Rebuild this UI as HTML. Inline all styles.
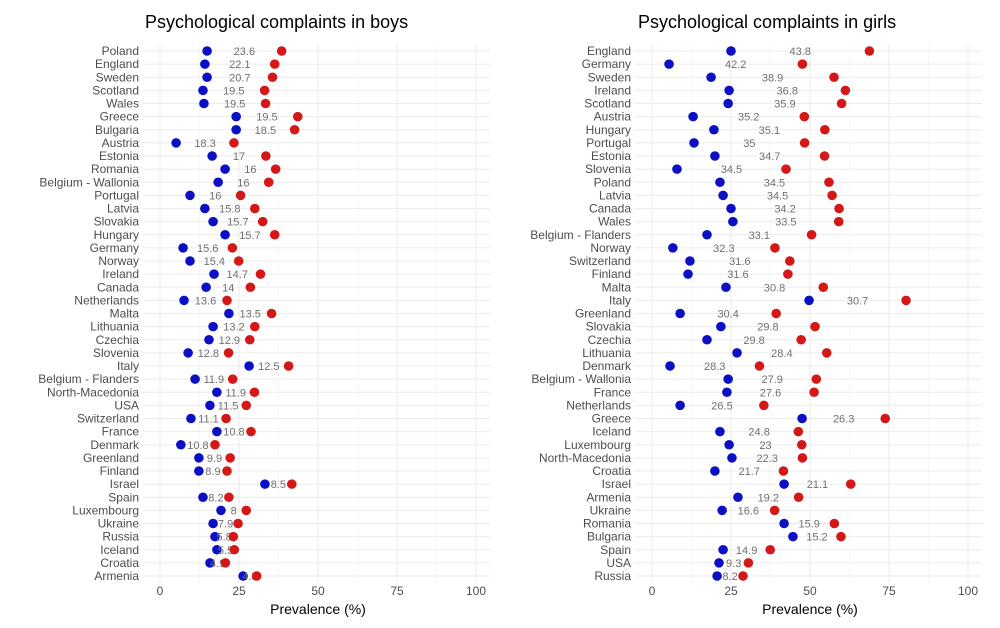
<!DOCTYPE html>
<html><head><meta charset="utf-8"><style>
body{margin:0;background:#fff;font-family:"Liberation Sans",sans-serif;}
svg text{font-family:"Liberation Sans",sans-serif;}
</style></head><body>
<svg id="chart" width="1000" height="623" viewBox="0 0 1000 623" xmlns="http://www.w3.org/2000/svg"></svg>
<script>
const boysCountries=["Poland","England","Sweden","Scotland","Wales","Greece","Bulgaria","Austria","Estonia","Romania","Belgium - Wallonia","Portugal","Latvia","Slovakia","Hungary","Germany","Norway","Ireland","Canada","Netherlands","Malta","Lithuania","Czechia","Slovenia","Italy","Belgium - Flanders","North-Macedonia","USA","Switzerland","France","Denmark","Greenland","Finland","Israel","Spain","Luxembourg","Ukraine","Russia","Iceland","Croatia","Armenia"];
const boysLow=[14.9,14.2,14.9,13.6,13.9,24.1,24.1,5.1,16.5,20.6,18.4,9.5,14.2,16.8,20.6,7.3,9.5,17.1,14.6,7.6,21.8,16.8,15.5,8.9,28.2,11.1,18.0,15.8,9.8,18.0,6.6,12.3,12.3,33.2,13.6,19.3,16.8,17.4,18.0,15.8,26.3];
const boysHigh=[38.5,36.3,35.6,33.1,33.4,43.6,42.6,23.4,33.5,36.6,34.4,25.5,30.0,32.5,36.3,22.9,24.9,31.8,28.6,21.2,35.3,30.0,28.4,21.7,40.7,23.0,29.9,27.3,20.9,28.8,17.4,22.2,21.2,41.7,21.8,27.3,24.7,23.2,23.5,20.7,30.6];
const boysGap=[23.6,22.1,20.7,19.5,19.5,19.5,18.5,18.3,17,16,16,16,15.8,15.7,15.7,15.6,15.4,14.7,14,13.6,13.5,13.2,12.9,12.8,12.5,11.9,11.9,11.5,11.1,10.8,10.8,9.9,8.9,8.5,8.2,8,7.9,5.8,5.5,4.9,4.3];
const girlsCountries=["England","Germany","Sweden","Ireland","Scotland","Austria","Hungary","Portugal","Estonia","Slovenia","Poland","Latvia","Canada","Wales","Belgium - Flanders","Norway","Switzerland","Finland","Malta","Italy","Greenland","Slovakia","Czechia","Lithuania","Denmark","Belgium - Wallonia","France","Netherlands","Greece","Iceland","Luxembourg","North-Macedonia","Croatia","Israel","Armenia","Ukraine","Romania","Bulgaria","Spain","USA","Russia"];
const girlsLow=[25.0,5.4,18.7,24.4,24.1,13.0,19.6,13.3,19.9,7.9,21.5,22.5,25.0,25.6,17.4,6.6,12.0,11.4,23.4,49.7,8.9,21.8,17.4,26.9,5.7,24.1,23.7,8.9,47.5,21.5,24.4,25.3,19.9,41.8,27.2,22.2,41.8,44.6,22.5,21.2,20.6];
const girlsHigh=[68.8,47.6,57.6,61.2,60.0,48.2,54.7,48.3,54.6,42.4,56.0,57.0,59.2,59.1,50.5,38.9,43.6,43.0,54.2,80.4,39.3,51.6,47.2,55.3,34.0,52.0,51.3,35.4,73.8,46.3,47.4,47.6,41.6,62.9,46.4,38.8,57.7,59.8,37.4,30.5,28.8];
const girlsGap=[43.8,42.2,38.9,36.8,35.9,35.2,35.1,35,34.7,34.5,34.5,34.5,34.2,33.5,33.1,32.3,31.6,31.6,30.8,30.7,30.4,29.8,29.8,28.4,28.3,27.9,27.6,26.5,26.3,24.8,23,22.3,21.7,21.1,19.2,16.6,15.9,15.2,14.9,9.3,8.2];
const ticks=[0,25,50,75,100];

const svg=document.getElementById('chart');
const NS='http://www.w3.org/2000/svg';
function mk(tag,attrs,parent,text){const e=document.createElementNS(NS,tag);for(const k in attrs)e.setAttribute(k,attrs[k]);if(text!==undefined)e.textContent=text;parent.appendChild(e);return e;}

function panel(name,title,x0,titleX,countries,low,high,gap){
  const g=mk('g',{},svg);
  
  
  const sx=v=>x0+v*3.16;
  const y0=51,dy=13.125;
  const sy=i=>y0+i*dy;
  const left=sx(0)-17,right=sx(100)+14,top=44,bot=583;
  for(let i=0;i<ticks.length-1;i++){
    const m=(ticks[i]+ticks[i+1])/2;
    const l=mk('line',{x1:sx(m),x2:sx(m),y1:top,y2:bot,stroke:'#f2f2f2','stroke-width':0.6},g);
    
  }
  ticks.forEach(t=>{
    const l=mk('line',{x1:sx(t),x2:sx(t),y1:top,y2:bot,stroke:'#ebebeb','stroke-width':1},g);
    
    const tx=mk('text',{x:sx(t),y:595,'text-anchor':'middle','font-size':12,fill:'#4d4d4d'},g,String(t));
    
  });
  countries.forEach((c,i)=>{
    const l=mk('line',{x1:left,x2:right,y1:sy(i),y2:sy(i),stroke:'#ebebeb','stroke-width':1},g);
    
    const t=mk('text',{x:left-4,y:sy(i)+4,'text-anchor':'end','font-size':12,fill:'#4d4d4d'},g,c);
    
  });
  countries.forEach((c,i)=>{
    const b=mk('circle',{cx:sx(low[i]),cy:sy(i),r:4.8,fill:'#0c10c4'},g);
    
    const mid=(sx(low[i])+sx(high[i]))/2;
    const lb=mk('text',{x:mid,y:sy(i)+4,'text-anchor':'middle','font-size':11,fill:'#707070'},g,String(gap[i]));
    
    const r=mk('circle',{cx:sx(high[i]),cy:sy(i),r:4.8,fill:'#d41818'},g);
    
  });
  const tt=mk('text',{x:titleX,y:28,'text-anchor':'start','font-size':18,fill:'#000'},g,title);
  
  const at=mk('text',{x:sx(50),y:614,'text-anchor':'middle','font-size':14,fill:'#000'},g,'Prevalence (%)');
  
}
panel('boys','Psychological complaints in boys',160,145,boysCountries,boysLow,boysHigh,boysGap);
panel('girls','Psychological complaints in girls',652,638,girlsCountries,girlsLow,girlsHigh,girlsGap);
</script>
</body></html>
